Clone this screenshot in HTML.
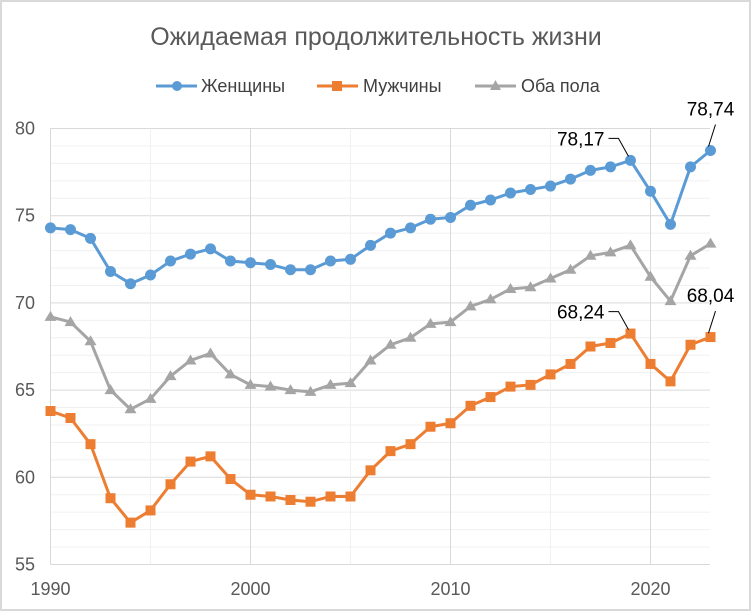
<!DOCTYPE html>
<html><head><meta charset="utf-8"><style>
body{margin:0;background:#fff;}
svg{display:block;font-family:"Liberation Sans","DejaVu Sans",sans-serif;}
</style></head><body>
<svg id="chart" width="753" height="614">
<rect x="1" y="1" width="749" height="609" fill="#fff" stroke="#d9d9d9" stroke-width="2"/>
<text x="376" y="45" text-anchor="middle" font-size="25" fill="#595959">Ожидаемая продолжительность жизни</text>
<g id="grid"></g><g id="axes"></g><g id="series"></g><g id="labels"></g>
<g>
<g><line x1="156" y1="86" x2="197" y2="86" stroke="#5b9bd5" stroke-width="3"/><circle cx="177" cy="86" r="5" fill="#5b9bd5"/><text x="201" y="92" font-size="18" fill="#404040">Женщины</text></g>
<g><line x1="317" y1="86" x2="358" y2="86" stroke="#ed7d31" stroke-width="3"/><rect x="332" y="81" width="10" height="10" fill="#ed7d31"/><text x="363" y="92" font-size="18" fill="#404040">Мужчины</text></g>
<g><line x1="475" y1="86" x2="516" y2="86" stroke="#a5a5a5" stroke-width="3"/><polygon points="495.5,80 501,90 490,90" fill="#a5a5a5"/><text x="521" y="92" font-size="18" fill="#404040">Оба пола</text></g>
</g>
</svg>
<script>
const years=[];for(let y=1990;y<=2023;y++)years.push(y);
const women=[74.3,74.2,73.7,71.8,71.1,71.6,72.4,72.8,73.1,72.4,72.3,72.2,71.9,71.9,72.4,72.5,73.3,74.0,74.3,74.8,74.9,75.6,75.9,76.3,76.5,76.7,77.1,77.6,77.8,78.17,76.4,74.5,77.8,78.74];
const men=[63.8,63.4,61.9,58.8,57.4,58.1,59.6,60.9,61.2,59.9,59.0,58.9,58.7,58.6,58.9,58.9,60.4,61.5,61.9,62.9,63.1,64.1,64.6,65.2,65.3,65.9,66.5,67.5,67.7,68.24,66.5,65.5,67.6,68.04];
const both=[69.2,68.9,67.8,65.0,63.9,64.5,65.8,66.7,67.1,65.9,65.3,65.2,65.0,64.9,65.3,65.4,66.7,67.6,68.0,68.8,68.9,69.8,70.2,70.8,70.9,71.4,71.9,72.7,72.9,73.3,71.5,70.1,72.7,73.4];
const yTicks=[55,60,65,70,75,80];
const xTicks=[1990,2000,2010,2020];
const X=v=>50.5+(v-1990)*20;
const Y=v=>564.5-(v-55)*(436/25);
const NS="http://www.w3.org/2000/svg";
function mk(p,t,a){const e=document.createElementNS(NS,t);for(const k in a)e.setAttribute(k,a[k]);p.appendChild(e);return e;}
const grid=document.getElementById('grid'),axes=document.getElementById('axes'),ser=document.getElementById('series'),lab=document.getElementById('labels');
for(let v=55;v<=80;v++){const l=mk(grid,'line',{x1:50.5,x2:710,y1:Y(v),y2:Y(v),stroke:v%5?'#f0f0f0':'#d9d9d9','stroke-width':1});

}
for(let y=1995;y<=2020;y+=5){const l=mk(grid,'line',{x1:X(y),x2:X(y),y1:Y(80),y2:Y(55),stroke:y%10?'#f0f0f0':'#d9d9d9','stroke-width':1});

}
const ax=mk(axes,'line',{x1:50.5,x2:50.5,y1:Y(80),y2:Y(55),stroke:'#d9d9d9'});


yTicks.forEach(v=>{const t=mk(axes,'text',{x:35,y:Y(v)+6,'text-anchor':'end','font-size':18,fill:'#595959'});t.textContent=v;

});
xTicks.forEach(v=>{const t=mk(axes,'text',{x:X(v),y:595,'text-anchor':'middle','font-size':18,fill:'#595959'});t.textContent=v;

});
function draw(data,color,shape,name){
 const g=mk(ser,'g',{});
 
 
 const pl=mk(g,'polyline',{points:data.map((v,i)=>X(years[i])+','+Y(v)).join(' '),fill:'none',stroke:color,'stroke-width':3,'stroke-linejoin':'round'});
 
 
 data.forEach((v,i)=>{const x=X(years[i]),y=Y(v);let m;
  if(shape==='c')m=mk(g,'circle',{cx:x,cy:y,r:5.5,fill:color});
  else if(shape==='s')m=mk(g,'rect',{x:x-5,y:y-5,width:10,height:10,fill:color});
  else m=mk(g,'polygon',{points:`${x},${y-6} ${x+6},${y+4} ${x-6},${y+4}`,fill:color});
  
  });
}
draw(both,'#a5a5a5','t','both');
draw(men,'#ed7d31','s','men');
draw(women,'#5b9bd5','c','women');
function label(data,idx,dx,dy,anchor,lx1,ly1,lx2,ly2){
 const x=X(years[idx]),y=Y(data[idx]);
 const t=mk(lab,'text',{x:x+dx,y:y+dy,'text-anchor':anchor,'font-size':19,fill:'#000'});
 t.textContent=data[idx].toFixed(2).replace('.',',');
 
 
 const l=mk(lab,'polyline',{points:`${x+lx1},${y+ly1} ${x+lx2},${y+ly2} ${x-2},${y-4}`,fill:'none',stroke:'#000','stroke-width':1});
 
 
}
label(women,29,-26,-15,'end',-22,-22,-12,-22);
label(men,29,-26,-15,'end',-22,-22,-12,-22);
label(women,33,0,-35,'middle',5,-26,5,-26);
label(men,33,0,-35,'middle',5,-26,5,-26);
</script>
</body></html>
